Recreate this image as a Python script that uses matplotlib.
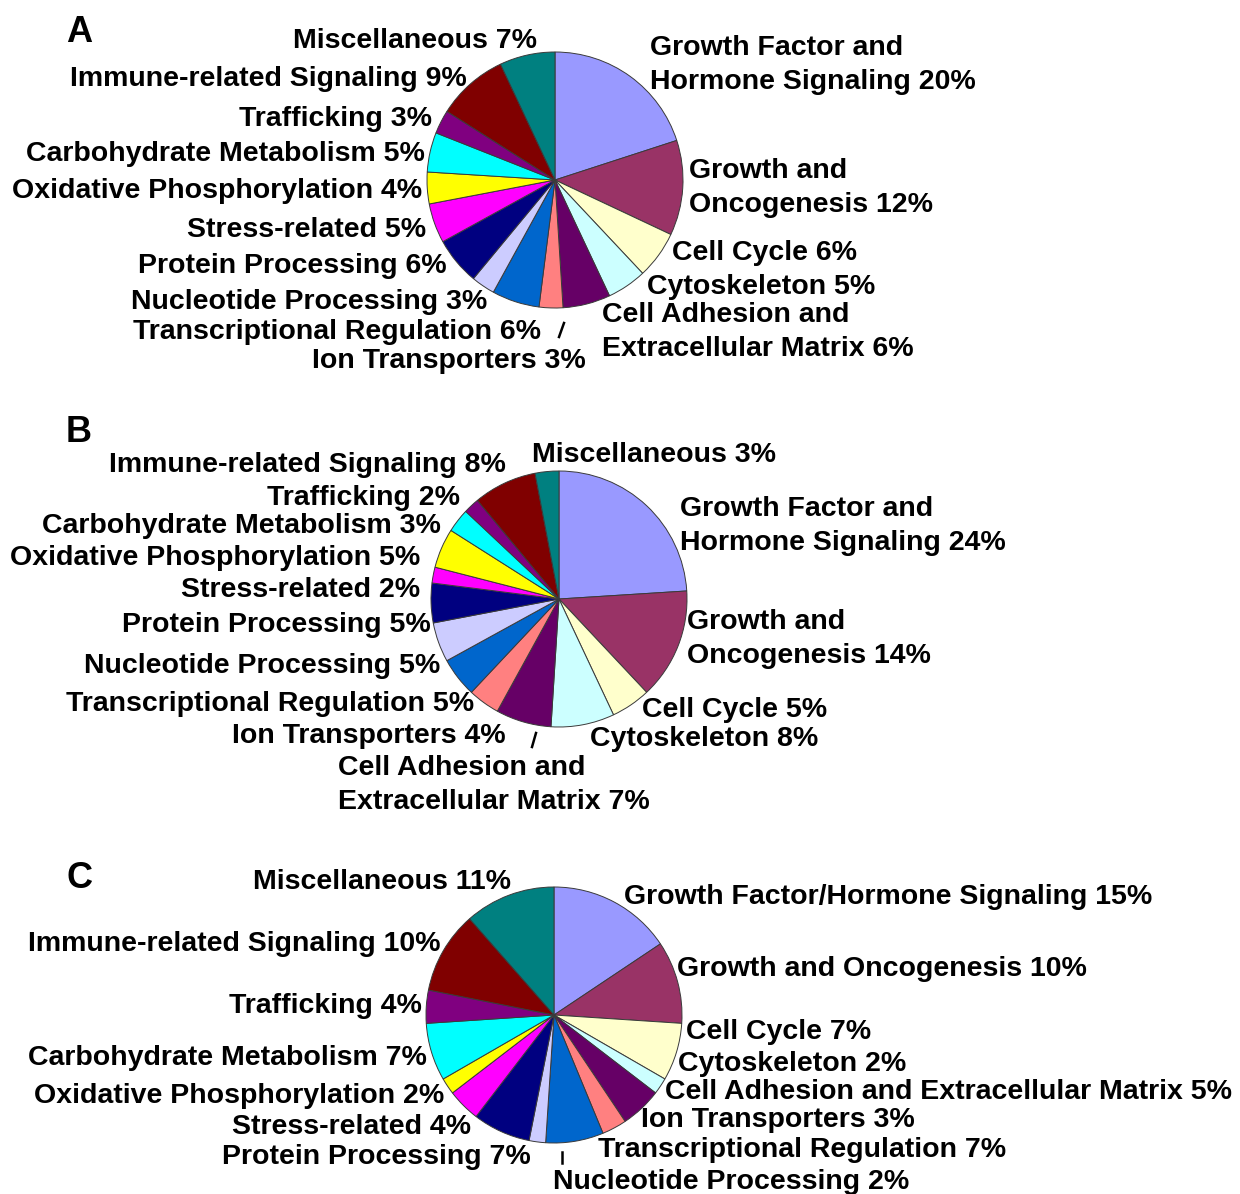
import matplotlib
matplotlib.use("Agg")
import matplotlib.pyplot as plt

# ---------------- data ----------------
categories = ["Growth Factor and Hormone Signaling", "Growth and Oncogenesis", "Cell Cycle",
              "Cytoskeleton", "Cell Adhesion and Extracellular Matrix", "Ion Transporters",
              "Transcriptional Regulation", "Nucleotide Processing", "Protein Processing",
              "Stress-related", "Oxidative Phosphorylation", "Carbohydrate Metabolism",
              "Trafficking", "Immune-related Signaling", "Miscellaneous"]
colors = ["#9999FF", "#993366", "#FFFFCC", "#CCFFFF", "#660066", "#FF8080", "#0066CC",
          "#CCCCFF", "#000080", "#FF00FF", "#FFFF00", "#00FFFF", "#800080", "#800000", "#008080"]

values_A = [20, 12, 6, 5, 6, 3, 6, 3, 6, 5, 4, 5, 3, 9, 7]
values_B = [24, 14, 5, 8, 7, 4, 5, 5, 5, 2, 5, 3, 2, 8, 3]
values_C = [15, 10, 7, 2, 5, 3, 7, 2, 7, 4, 2, 7, 4, 10, 11]

names_A = ["Growth Factor and\nHormone Signaling", "Growth and\nOncogenesis", "Cell Cycle",
           "Cytoskeleton", "Cell Adhesion and\nExtracellular Matrix", "Ion Transporters",
           "Transcriptional Regulation", "Nucleotide Processing", "Protein Processing",
           "Stress-related", "Oxidative Phosphorylation", "Carbohydrate Metabolism",
           "Trafficking", "Immune-related Signaling", "Miscellaneous"]
names_B = list(names_A)
names_C = ["Growth Factor/Hormone Signaling", "Growth and Oncogenesis", "Cell Cycle",
           "Cytoskeleton", "Cell Adhesion and Extracellular Matrix", "Ion Transporters",
           "Transcriptional Regulation", "Nucleotide Processing", "Protein Processing",
           "Stress-related", "Oxidative Phosphorylation", "Carbohydrate Metabolism",
           "Trafficking", "Immune-related Signaling", "Miscellaneous"]

panel_letters = ["A", "B", "C"]

# ---------------- layout (pixel coordinates, y downward) ----------------
W, H = 1240, 1194
pie_centers = [(555, 180), (559, 599), (554, 1015)]
pie_radius = 128
letter_pos = [(79, 31), (79, 430), (79, 877)]

# (x, y of first line, ha) for each label, same order as categories
pos_A = [(650, 46, "left"), (689, 169, "left"), (672, 251, "left"), (647, 285, "left"),
         (602, 313, "left"), (586, 359, "right"), (541, 330, "right"), (487, 300, "right"),
         (447, 264, "right"), (426, 228, "right"), (422, 189, "right"), (425, 152, "right"),
         (432, 117, "right"), (467, 77, "right"), (537, 39, "right")]
pos_B = [(680, 507, "left"), (687, 620, "left"), (642, 708, "left"), (590, 737, "left"),
         (338, 766, "left"), (506, 734, "right"), (474, 702, "right"), (440, 664, "right"),
         (431, 623, "right"), (420, 588, "right"), (420, 556, "right"), (441, 524, "right"),
         (460, 496, "right"), (506, 463, "right"), (532, 453, "left")]
pos_C = [(624, 895, "left"), (677, 967, "left"), (686, 1030, "left"), (678, 1062, "left"),
         (665, 1090, "left"), (641, 1118, "left"), (598, 1148, "left"), (553, 1180, "left"),
         (531, 1155, "right"), (471, 1125, "right"), (444, 1094, "right"), (427, 1056, "right"),
         (422, 1004, "right"), (440, 942, "right"), (511, 880, "right")]
leaders = [((559, 337), (564, 323)), ((532, 747), (536, 733)), ((562, 1152), (562, 1163))]

line_step = 34
y_shift = 2
FONT = "Liberation Sans"
FS = 20.5

fig = plt.figure(figsize=(W / 100, H / 100), dpi=100)
ax = fig.add_axes([0, 0, 1, 1])

panels = [(values_A, names_A, pos_A), (values_B, names_B, pos_B), (values_C, names_C, pos_C)]
for i, (vals, names, poss) in enumerate(panels):
    cx, cy = pie_centers[i]
    ax.pie(vals, colors=colors, startangle=-90, counterclock=True,
           center=(cx, cy), radius=pie_radius,
           wedgeprops=dict(edgecolor="#3a3a3a", linewidth=0.7))
    for name, v, (x, y, ha) in zip(names, vals, poss):
        lines = f"{name} {v}%".split("\n")
        for k, ln in enumerate(lines):
            ax.text(x, y + y_shift + k * line_step, ln, ha=ha, va="center",
                    fontsize=FS, fontweight="bold", family=FONT, color="black")
    lx, ly = letter_pos[i]
    ax.text(lx, ly + y_shift, panel_letters[i], ha="center", va="center",
            fontsize=26, fontweight="bold", family=FONT, color="black")
    (x0, y0), (x1, y1) = leaders[i]
    ax.plot([x0, x1], [y0, y1], color="black", lw=1.8)

ax.set_xlim(0, W)
ax.set_ylim(H, 0)
ax.set_aspect("equal")
ax.set_axis_off()
fig.savefig("out.png", dpi=100, facecolor="white")
